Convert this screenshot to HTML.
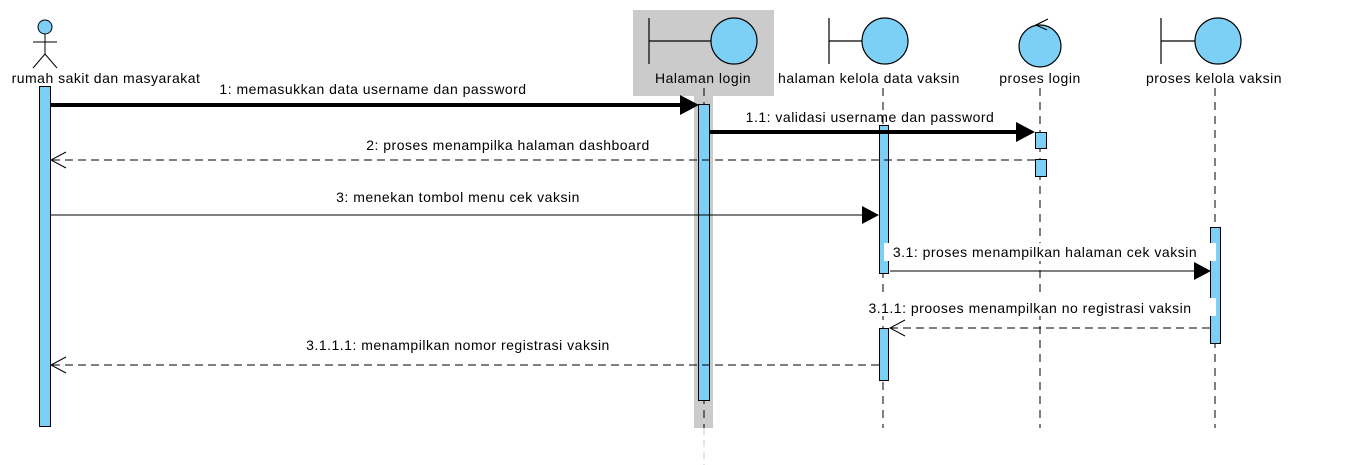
<!DOCTYPE html>
<html><head><meta charset="utf-8"><style>
html,body{margin:0;padding:0;background:#fff;width:1368px;height:465px;overflow:hidden}
svg text{font-family:"Liberation Sans",Arial,sans-serif;font-size:14px;letter-spacing:0.5px;fill:#000}
</style></head><body>
<svg width="1368" height="465" viewBox="0 0 1368 465" xmlns="http://www.w3.org/2000/svg">
<rect x="633" y="10" width="141" height="86" fill="#cbcbcb"/>
<rect x="694" y="96" width="19" height="332" fill="#cbcbcb"/>
<line x1="704" y1="428" x2="704" y2="465" stroke="#c8c8c8" stroke-dasharray="7,5"/>

<g stroke="#000" stroke-width="1" stroke-dasharray="8,6" fill="none">
<line x1="704" y1="88" x2="704" y2="428"/>
<line x1="883" y1="88" x2="883" y2="428"/>
<line x1="1040" y1="88" x2="1040" y2="428"/>
<line x1="1215" y1="88" x2="1215" y2="428"/>
</g>

<g stroke="#000" stroke-width="1" fill="none">
<circle cx="45" cy="27" r="7" fill="#7dd0f5"/>
<line x1="45" y1="34" x2="45" y2="54"/>
<line x1="33" y1="42" x2="57" y2="42"/>
<line x1="45" y1="54" x2="33" y2="68"/>
<line x1="45" y1="54" x2="57" y2="68"/>
</g>
<text x="106" y="83" text-anchor="middle">rumah sakit dan masyarakat</text>

<g stroke="#000" stroke-width="1.2">
<line x1="649" y1="18" x2="649" y2="64"/>
<line x1="649" y1="41" x2="711" y2="41"/>
<ellipse cx="734" cy="41" rx="23" ry="23" fill="#7dd0f5"/>
<line x1="829" y1="18" x2="829" y2="64"/>
<line x1="829" y1="41" x2="862" y2="41"/>
<ellipse cx="885" cy="41" rx="23" ry="23" fill="#7dd0f5"/>
<line x1="1161" y1="18" x2="1161" y2="64"/>
<line x1="1161" y1="41" x2="1195" y2="41"/>
<ellipse cx="1218" cy="41" rx="23" ry="23" fill="#7dd0f5"/>
<circle cx="1040" cy="46" r="21" fill="#7dd0f5"/>
<polyline points="1048,19 1036,25 1047,30" fill="none"/>
</g>
<text x="703" y="83" text-anchor="middle">Halaman login</text>
<text x="869" y="83" text-anchor="middle">halaman kelola data vaksin</text>
<text x="1040" y="83" text-anchor="middle">proses login</text>
<text x="1214" y="83" text-anchor="middle">proses kelola vaksin</text>

<g fill="#7dd0f5" stroke="#000" stroke-width="1">
<rect x="39.5" y="86.5" width="11" height="340"/>
<rect x="698.5" y="104.5" width="11" height="296"/>
<rect x="879.5" y="125.5" width="9" height="148"/>
<rect x="879.5" y="328.5" width="9" height="52"/>
<rect x="1035.5" y="132.5" width="11" height="16"/>
<rect x="1035.5" y="159.5" width="11" height="17"/>
<rect x="1210.5" y="227.5" width="10" height="116"/>
</g>

<line x1="51" y1="105" x2="682" y2="105" stroke="#000" stroke-width="4"/>
<polygon points="680,95 699,105 680,115" fill="#000"/>
<text x="373" y="94" text-anchor="middle">1: memasukkan data username dan password</text>
<line x1="710" y1="132" x2="1018" y2="132" stroke="#000" stroke-width="4"/>
<polygon points="1016,122 1035,132 1016,142" fill="#000"/>
<text x="870" y="122" text-anchor="middle">1.1: validasi username dan  password</text>
<line x1="1035" y1="160" x2="52" y2="160" stroke="#000" stroke-dasharray="8,5"/>
<polyline points="66,152 51,160 66,168" fill="none" stroke="#000"/>
<text x="508" y="150" text-anchor="middle">2: proses menampilka halaman dashboard</text>
<line x1="51" y1="215" x2="863" y2="215" stroke="#000"/>
<polygon points="862,206 879,215 862,224" fill="#000"/>
<text x="458" y="202" text-anchor="middle">3: menekan tombol menu cek vaksin</text>
<rect x="884" y="243" width="332" height="18" fill="#fff"/>
<line x1="890" y1="271" x2="1195" y2="271" stroke="#000"/>
<polygon points="1194,262 1211,271 1194,280" fill="#000"/>
<text x="1045" y="257" text-anchor="middle">3.1: proses menampilkan halaman cek  vaksin</text>
<rect x="880" y="298" width="336" height="18" fill="#fff"/>
<line x1="1210" y1="328" x2="891" y2="328" stroke="#000" stroke-dasharray="8,5"/>
<polyline points="905,320 890,328 905,336" fill="none" stroke="#000"/>
<text x="1030" y="313" text-anchor="middle">3.1.1: prooses menampilkan no registrasi vaksin</text>
<line x1="879" y1="365" x2="52" y2="365" stroke="#000" stroke-dasharray="8,5"/>
<polyline points="66,357 51,365 66,373" fill="none" stroke="#000"/>
<text x="458" y="350" text-anchor="middle">3.1.1.1: menampilkan nomor registrasi vaksin</text>
</svg>
</body></html>
